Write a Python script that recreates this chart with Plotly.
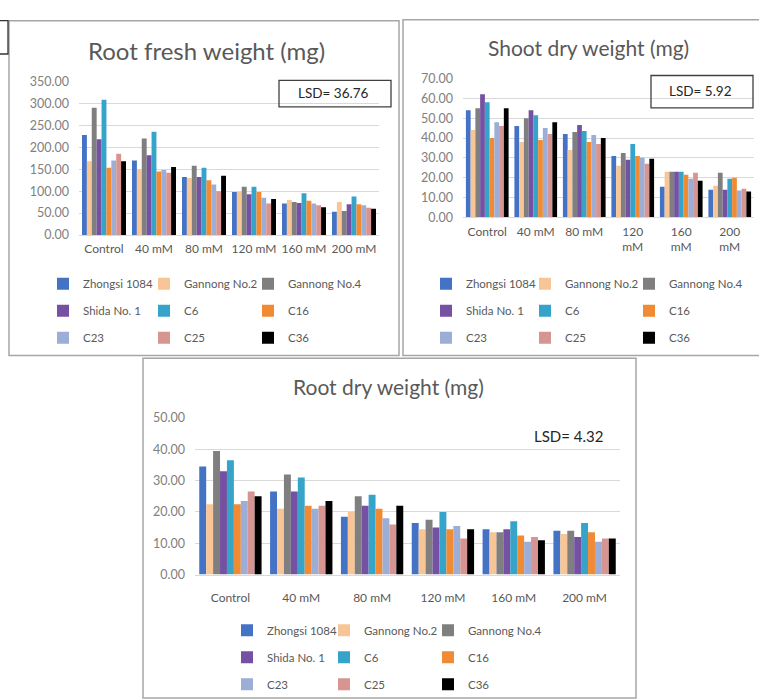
import plotly.graph_objects as go

# ---- data -------------------------------------------------------------
concentrations = ["Control", "40 mM", "80 mM", "120 mM", "160 mM", "200 mM"]
shoot_tick_labels = ["Control", "40 mM", "80 mM", "120<br>mM", "160<br>mM", "200<br>mM"]

genotypes = ["Zhongsi 1084", "Gannong No.2", "Gannong No.4",
             "Shida No. 1", "C6", "C16",
             "C23", "C25", "C36"]

colors = ["#4472C4", "#F8C597", "#7F7F7F",
          "#7451A2", "#36A3C9", "#F08A33",
          "#9CADD6", "#D69591", "#000000"]

# Root fresh weight (mg): one list per genotype, values per NaCl level
root_fresh = {
    "Zhongsi 1084": [228, 170, 132, 98, 72, 53],
    "Gannong No.2": [168, 150, 130, 98, 80, 75],
    "Gannong No.4": [290, 220, 158, 110, 75, 55],
    "Shida No. 1":  [218, 182, 132, 93, 73, 70],
    "C6":           [308, 235, 153, 110, 95, 88],
    "C16":          [153, 145, 125, 98, 78, 70],
    "C23":          [170, 148, 115, 85, 72, 68],
    "C25":          [185, 142, 100, 72, 68, 62],
    "C36":          [168, 155, 135, 82, 63, 60],
}

# Shoot dry weight (mg)
shoot_dry = {
    "Zhongsi 1084": [54, 46, 42, 31, 15.5, 14],
    "Gannong No.2": [44, 38, 34, 26, 23, 16],
    "Gannong No.4": [55, 50, 43, 32.5, 23, 22.5],
    "Shida No. 1":  [62, 54, 46.5, 29, 23, 14],
    "C6":           [58, 51.5, 43.5, 37, 23, 19.5],
    "C16":          [40, 39, 38, 31, 21.5, 20],
    "C23":          [48, 45, 41.5, 30, 19.5, 13.5],
    "C25":          [46, 42, 37, 27, 22.5, 14.5],
    "C36":          [55, 48, 40, 29.5, 18.5, 13],
}

# Root dry weight (mg)
root_dry = {
    "Zhongsi 1084": [34.5, 26.5, 18.5, 16.5, 14.5, 14],
    "Gannong No.2": [22.5, 21, 20, 14.5, 13.5, 13],
    "Gannong No.4": [39.5, 32, 25, 17.5, 13.5, 14],
    "Shida No. 1":  [33, 26.5, 22, 15, 14.5, 12],
    "C6":           [36.5, 31, 25.5, 20, 17, 16.5],
    "C16":          [22.5, 22, 21, 14.5, 12.5, 13.5],
    "C23":          [23.5, 21, 18, 15.5, 10.5, 10.5],
    "C25":          [26.5, 22, 16, 11.5, 12, 11.5],
    "C36":          [25, 23.5, 22, 14.5, 11, 11.5],
}

titles = ["Root fresh weight (mg)", "Shoot dry weight (mg)", "Root dry weight (mg)"]
lsd_labels = ["LSD= 36.76", "LSD= 5.92", "LSD= 4.32"]
y_ranges = [(0, 350), (0, 70), (0, 50)]
y_steps = [50, 10, 10]

# ---- layout helpers (pixel -> paper) ------------------------------------
W, H = 759, 700
FONT = "Lato, 'Open Sans', sans-serif"
TXT = "#595959"


def px(x):
    return x / W


def py(y):
    return 1 - y / H


# plot areas in pixels: (left, right, top, bottom)
areas = [(79, 379, 75, 232), (463, 754, 72, 214), (195, 620, 419, 579)]
x_label_standoff = [3, 3, 12]
title_sizes = [24, 21, 21]
# legend columns: left edge of each column, top of first row
legend_cols = [[(43, 267), (144, 267), (248, 267)],
               [(426, 267), (525, 267), (629, 267)],
               [(227, 621), (324, 621), (428, 621)]]

datasets = [root_fresh, shoot_dry, root_dry]
ticktext_list = [concentrations, shoot_tick_labels, concentrations]

fig = go.Figure()
layout = dict()

for c, data in enumerate(datasets):
    sfx = "" if c == 0 else str(c + 1)
    xa, ya = "x" + sfx, "y" + sfx
    for g, name in enumerate(genotypes):
        col = g % 3
        n = c * 3 + col + 1
        leg = "legend" if n == 1 else f"legend{n}"
        fig.add_trace(go.Bar(
            x=concentrations, y=data[name], name=name,
            marker=dict(color=colors[g], line=dict(width=0)),
            xaxis=xa, yaxis=ya, legend=leg,
            legendgroup=f"{c}-{name}",
        ))
    left, right, top, bottom = areas[c]
    layout["xaxis" + sfx] = dict(
        domain=[px(left), px(right)], anchor=ya,
        type="category", categoryorder="array", categoryarray=concentrations,
        tickvals=concentrations, ticktext=ticktext_list[c],
        showgrid=False, showline=True, linecolor="#D9D9D9", linewidth=1,
        ticks="", ticklabelstandoff=x_label_standoff[c],
        tickfont=dict(family=FONT, size=12, color=TXT),
        fixedrange=True,
    )
    layout["yaxis" + sfx] = dict(
        domain=[py(bottom), py(top)], anchor=xa,
        range=list(y_ranges[c]), dtick=y_steps[c], tick0=0,
        tickformat=".2f", showgrid=True, gridcolor="#D9D9D9", gridwidth=1,
        zeroline=False, showline=False, ticks="", ticklabelstandoff=9,
        tickfont=dict(family=FONT, size=12.5, color="#808080"),
        fixedrange=True,
    )
    for col, (lx, ly) in enumerate(legend_cols[c]):
        n = c * 3 + col + 1
        key = "legend" if n == 1 else f"legend{n}"
        layout[key] = dict(
            x=px(lx), y=py(ly), xanchor="left", yanchor="top",
            orientation="v", bgcolor="rgba(0,0,0,0)", borderwidth=0,
            font=dict(family=FONT, size=11.5, color=TXT),
            tracegroupgap=8, itemwidth=30, itemclick=False,
        )

# chart titles
title_pos = [(207, 43), (588, 40), (388, 387)]
annotations = []
for t, (tx, ty), fs in zip(titles, title_pos, title_sizes):
    annotations.append(dict(
        text=t, x=px(tx), y=py(ty), xref="paper", yref="paper",
        showarrow=False, xanchor="center", yanchor="middle",
        font=dict(family=FONT, size=fs, color=TXT),
    ))

# LSD labels (boxed on the two upper charts)
lsd_boxes = [(279, 74, 391, 101), (651, 69, 753, 102), None]
lsd_text_pos = [(333, 87), (700, 85), (568, 437)]
for lbl, box, (tx, ty) in zip(lsd_labels, lsd_boxes, lsd_text_pos):
    annotations.append(dict(
        text=lbl, x=px(tx), y=py(ty), xref="paper", yref="paper",
        showarrow=False, xanchor="center", yanchor="middle",
        font=dict(family=FONT, size=13.5 if box else 15, color="#262626"),
    ))

shapes = []
for box in lsd_boxes:
    if box:
        x0, y0, x1, y1 = box
        shapes.append(dict(type="rect", xref="paper", yref="paper",
                           x0=px(x0), x1=px(x1), y0=py(y0), y1=py(y1),
                           line=dict(color="#404040", width=1.3)))

# panel frames
frames = [(9, 13, 399, 355), (403, 12, 762, 355), (143, 358, 636, 705)]
for x0, y0, x1, y1 in frames:
    shapes.append(dict(type="rect", xref="paper", yref="paper",
                       x0=px(x0), x1=px(x1), y0=py(y0), y1=py(y1),
                       line=dict(color="#A6A6A6", width=1.5)))
# small framed box at the upper-left edge
shapes.append(dict(type="rect", xref="paper", yref="paper",
                   x0=px(-2), x1=px(8), y0=py(13), y1=py(47),
                   line=dict(color="#333333", width=1.3)))

fig.update_layout(
    width=W, height=H, margin=dict(l=0, r=0, t=0, b=0),
    paper_bgcolor="white", plot_bgcolor="white",
    barmode="group", bargap=0.12, bargroupgap=0,
    annotations=annotations, shapes=shapes,
    hovermode=False,
    **layout,
)

fig.write_html("out.html")
